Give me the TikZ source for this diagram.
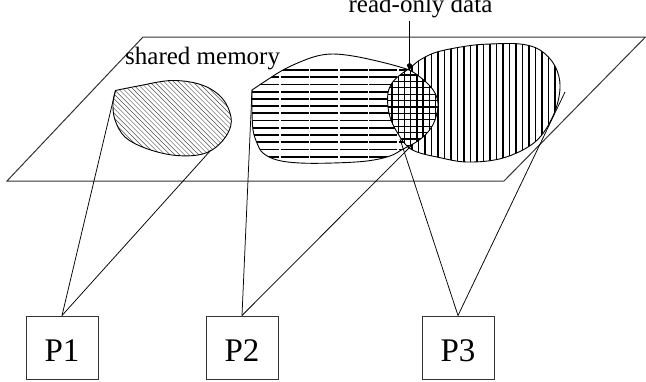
\documentclass[tikz,border=0pt]{standalone}
\usepackage{fontspec}
\setmainfont{Liberation Serif}
\usetikzlibrary{arrows.meta}
\begin{document}
\begin{tikzpicture}[x=1pt,y=-1pt,
  lbl/.style={font=\fontsize{25}{30}\selectfont, inner sep=0pt},
  pbox/.style={draw=black!80, line width=1pt, minimum width=72pt, minimum height=63pt,
    inner sep=0pt, text height=28.4pt, text depth=0pt, font=\fontsize{33}{38}\selectfont},
  plane/.style={draw=black!80, line width=1pt},
  outline/.style={draw=black, line width=0.9pt},
  link/.style={draw=black, line width=0.75pt},
  diag/.style={line width=0.45pt, black!70},
  hline/.style={line width=1.8pt, dash pattern=on 28pt off 1.5pt},
  vline/.style={line width=1.5pt},
  gline/.style={line width=1.3pt}]
\useasboundingbox (0,0) rectangle (646,381);

\def\blobA{plot[smooth,tension=0.6] coordinates {(115.5,90.5) (138,86) (172,80.5) (202,85) (222,98) (231,117) (228,133) (215,148) (198,155) (172,155) (145,148) (125,137) (115,120) (113,103) (115.5,90.5)} -- cycle}
\def\blobB{plot[smooth,tension=0.6] coordinates {(252,90) (267,80) (283,70) (300,62) (317,56) (333,54) (353,56) (377,61) (400,67) (413,72) (427,83) (435,93) (438,104) (436,117) (431,128) (423,137) (413,144) (403,149) (390,156) (367,161) (333,163) (300,163) (277,160) (263,153) (257,143) (253,130) (252,110) (252,90)} -- cycle}
\def\blobC{plot[smooth cycle,tension=0.6] coordinates {(410,68) (420,60) (437,52) (467,46) (490,44) (520,44) (540,50) (555,66) (560,88) (553,116) (535,142) (503,158) (467,162) (437,157) (417,152) (406,145) (397,132) (391,120) (388,107) (388,93) (392,83) (400,75)}}

% plane
\draw[plane] (143,37) -- (645.5,37) -- (504,181) -- (7,181) -- cycle;

% hatching
\begin{scope}
  \clip \blobA;
  \foreach \k in {-60,-55.2,...,240} \draw[diag] (\k,40) -- ++(130,130);
\end{scope}
\begin{scope}
  \clip \blobB;
  \foreach \yy in {70,77.22,...,160} \draw[hline] (251,\yy) -- (440,\yy);
\end{scope}
\begin{scope}
  \clip \blobC;
  \foreach \xx in {386,392.5,...,564} \draw[vline] (\xx,40) -- (\xx,166);
\end{scope}
\begin{scope}
  \clip \blobB;
  \clip \blobC;
  \fill[white] (380,60) rectangle (442,160);
  \foreach \xx in {385.9,392.1,...,442} \draw[gline] (\xx,60) -- (\xx,160);
  \foreach \yy in {68.6,75,...,160} \draw[gline] (380,\yy) -- (442,\yy);
\end{scope}

% outlines
\draw[outline] \blobA;
\draw[outline] \blobB;
\draw[outline] \blobC;

% labels
\node[lbl, anchor=base west] (sm) at (125,64) {shared memory};
\node[lbl, anchor=base] (ro) at (420.5,12) {read-only data};

% processors
\node[pbox] (P1) at (62,347.5) {P1};
\node[pbox] (P2) at (242,347.5) {P2};
\node[pbox] (P3) at (458,347.5) {P3};

% attachment points
\coordinate (a1) at (115.5,90.5);
\coordinate (a2) at (211,150);
\coordinate (b1) at (252,90);
\coordinate (b2) at (413,144);
\coordinate (c1) at (400,139);
\coordinate (c2) at (565,92);
\coordinate (tip) at (409.5,70);

\draw[link] (P1.north) -- (a1);
\draw[link] (P1.north) -- (a2);
\draw[link] (P2.north) -- (b1);
\draw[link] (P2.north) -- (b2);
\draw[link] (P3.north) -- (c1);
\draw[link] (P3.north) -- (c2);

\draw[line width=1pt, -{Kite[length=8pt,width=5.5pt,inset=2.5pt,round]}]
  ([yshift=-3pt]ro.south -| tip) -- (tip);
\end{tikzpicture}
\end{document}
